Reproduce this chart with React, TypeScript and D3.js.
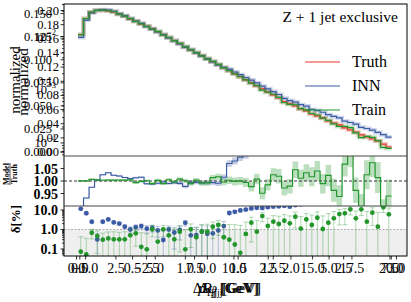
import React from 'react';
import * as d3 from 'd3';

// ---- data ----
const nBins = 57;

const truth = [0.0109, 0.0219, 0.0287, 0.0310, 0.0313, 0.0305, 0.0292, 0.0263, 0.0242, 0.0216,
  0.0194, 0.0174, 0.0156, 0.0140, 0.0124, 0.0109, 0.00958, 0.00841, 0.00738, 0.00648,
  0.00569, 0.00499, 0.00438, 0.00385, 0.00338, 0.00296, 0.00260, 0.00228, 0.00200, 0.00176,
  0.00154, 0.00136, 0.00119, 0.00104, 0.000917, 0.000805, 0.000706, 0.000594, 0.000545, 0.000499,
  0.000438, 0.000402, 0.000353, 0.000323, 0.000296, 0.000260, 0.000238, 0.000219, 0.000192, 0.000176,
  0.000161, 0.000142, 0.000130, 0.000119, 0.000109, 0.0000957, 0.0000841];

// signed deviation from truth, in percent
const innDev = [-11.5, -6.8, -2.5, 0.31, 2.5, 3.3, 2.3, 2.0, 1.4, 1.0, 1.3, 1.5,
  -1.1, -1.2, -0.9, -0.29, -1.0, -0.7, -0.94, -2.2, -0.5, -0.52, -0.8, -0.6, -0.64, -0.9, 1.5,
  7.0, 8.0, 9.5, 10.5, 12, 13, 12.5, 14, 15, 15.5, 16.5, 15,
  18, 20, 23, 21, 26, 28, 31, 33, 36, 34, 38, 41, 39, 44, 47, 45, 50, 54];

const trainDev = [0.073, 0.053, 0.68, 0.46, 0.3, 0.35, 0.315, 0.315, 0.315, 0.5, -0.64, -0.13, 0.096,
  -1.02, 0.24, -1.02, 0.5, -0.315, 0.77, 0.096, -1.02, 0.40, -0.77, -0.77, 1.39, 1.7, -0.40,
  0.3, -0.17, 0.064, -0.59, -2.23, 0.77, -4.9, -1.51, 2.51, 1.91, -2.8, -2.08,
  4.5, 1.11, 3.3, 1.7, 4.0, -1.06, 2.23, -3.74, -6.2, 6.77, 10.8, -3.74, -10.8, 2.51, 7.3, 1.39, -13.7, -6.0];

// uncertainties, in percent
const innSigma = [0.25, 0.2, 0.25, 0.3, 0.25, 0.3, 0.3, 0.35, 0.3, 0.35,
  0.4, 0.4, 0.45, 0.45, 0.5, 0.55, 0.5, 0.6, 0.65, 0.7,
  0.75, 0.8, 0.85, 0.9, 1.0, 1.05, 1.1, 1.3, 1.4, 1.5,
  1.6, 1.8, 1.9, 2.0, 2.2, 2.4, 2.5, 2.7, 2.9, 3.0,
  3.2, 3.4, 3.6, 3.8, 4.0, 4.2, 4.4, 4.6, 4.8, 5.0,
  5.2, 5.4, 5.6, 5.8, 6.0, 6.2, 6.4];

const trainSigma = [0.35, 0.3, 0.35, 0.4, 0.35, 0.4, 0.45, 0.4, 0.45, 0.5,
  0.5, 0.55, 0.5, 0.6, 0.65, 0.6, 0.7, 0.75, 0.7, 0.85,
  0.9, 0.85, 1.0, 1.1, 1.05, 1.2, 1.3, 1.5, 1.6, 1.55,
  1.8, 2.0, 2.1, 2.4, 2.3, 2.6, 2.9, 3.0, 2.9, 3.3,
  3.5, 3.4, 3.8, 4.0, 3.9, 4.3, 4.6, 4.5, 5.0, 5.2,
  5.1, 5.6, 5.8, 5.7, 6.2, 6.4, 6.6];

// overlapping axis tick sets (as in the reference)
const yTicksA = [0, 0.02, 0.04, 0.06, 0.08, 0.10, 0.12, 0.14, 0.16, 0.18, 0.20];
const yTicksB = [0, 0.025, 0.05, 0.075, 0.1, 0.125, 0.15];
const yLogTicks = [1e-4, 1e-3, 1e-2];
const ratioTicks = [0.95, 1.0, 1.05];
const deltaTicks = [0.1, 1, 10];
const xTicksA = [-5, -2.5, 0, 2.5, 5, 7.5];
const xTicksB = [0, 2.5, 5, 7.5, 10, 12.5, 15, 17.5, 20];
const xTicksC = [0, 0.5, 1, 1.5, 2, 2.5, 3];

const legend = [
  { name: 'Truth', color: '#e8372c' },
  { name: 'INN', color: '#3c5ba6' },
  { name: 'Train', color: '#22962a' },
];

const FONT = "'Liberation Serif', 'DejaVu Serif', serif";
const minus = (s: string) => s.replace('-', '\u2212');

export default function App() {
  const W = 411, H = 302;
  const L = 64, R = 407, T = 4, mB = 156, rB = 206, dB = 256;

  const x = d3.scaleLinear().domain([-2.55, 59.8]).range([L, R]);
  const yMain = d3.scaleLog().domain([5.7e-5, 0.041]).range([mB, T]);
  const yRatio = d3.scaleLinear().domain([0.9, 1.1]).range([rB, mB]);
  const yDelta = d3.scaleLog().domain([0.0438, 16]).range([dB, rB]);

  const yA = d3.scaleLinear().domain([0, 0.205]).range([152, 7]);
  const yB = d3.scaleLinear().domain([0, 0.155]).range([152, 9]);
  const xA = d3.scaleLinear().domain([-5.89, 8.2]).range([L, R]);
  const xB = d3.scaleLinear().domain([-0.8, 21]).range([L, R]);
  const xC = d3.scaleLinear().domain([-0.15, 3.1]).range([L, R]);

  const [cTruth, cInn, cTrain] = legend.map(l => l.color);

  const inn = truth.map((v, i) => v * (1 + innDev[i] / 100));
  const train = truth.map((v, i) => v * (1 + trainDev[i] / 100));
  const innRatio = innDev.map(d => 1 + d / 100);
  const trainRatio = trainDev.map(d => 1 + d / 100);

  const steps = (vals: number[]): [number, number][] =>
    [...vals.map((v, i) => [i, v] as [number, number]), [nBins, vals[nBins - 1]]];

  const mainLine = d3.line<[number, number]>()
    .x(d => x(d[0])).y(d => yMain(d[1])).curve(d3.curveStepAfter);
  const ratioLine = d3.line<[number, number]>()
    .x(d => x(d[0])).y(d => yRatio(d[1])).curve(d3.curveStepAfter);
  const band = (r: number[], s: number[]) => {
    const lo = steps(r.map((v, i) => v - s[i] / 100));
    const hi = steps(r.map((v, i) => v + s[i] / 100));
    return d3.area<number>()
      .x(i => x(lo[i][0]))
      .y0(i => yRatio(lo[i][1]))
      .y1(i => yRatio(hi[i][1]))
      .curve(d3.curveStepAfter)(d3.range(lo.length));
  };

  const logMinor = (lo: number, hi: number) => {
    const out: number[] = [];
    for (let e = -6; e <= 2; e++) for (let m = 2; m <= 9; m++) {
      const v = m * Math.pow(10, e);
      if (v >= lo && v <= hi) out.push(v);
    }
    return out;
  };

  const deltaSeries = (dev: number[], sig: number[], color: string, key: string) => (
    <g key={key}>
      {dev.map((d, i) => {
        const a = Math.abs(d);
        const cx = x(i + 0.5);
        const hi = a + sig[i];
        const lo = a - sig[i];
        const yHi = yDelta(hi);
        const yLo = lo > 0 ? yDelta(lo) : dB + 20;
        return (
          <g key={i}>
            <line x1={cx} x2={cx} y1={yHi} y2={yLo} stroke={color} strokeOpacity={0.35} strokeWidth={1} />
            <line x1={cx - 2.5} x2={cx + 2.5} y1={yHi} y2={yHi} stroke={color} strokeOpacity={0.35} strokeWidth={1} />
            {lo > 0 && <line x1={cx - 2.5} x2={cx + 2.5} y1={yLo} y2={yLo} stroke={color} strokeOpacity={0.35} strokeWidth={1} />}
            <circle cx={cx} cy={yDelta(a)} r={2.4} fill={color} />
          </g>
        );
      })}
    </g>
  );

  const sup = (v: number) => String(Math.round(Math.log10(v))).replace('-', '\u2212');

  return (
    <svg width={W} height={H} style={{ position: 'absolute', left: 0, top: 0, background: '#fff' }}
      fontFamily={FONT}>
      <defs>
        <clipPath id="cMain"><rect x={L} y={T} width={R - L} height={mB - T} /></clipPath>
        <clipPath id="cRatio"><rect x={L} y={mB} width={R - L} height={rB - mB} /></clipPath>
        <clipPath id="cDelta"><rect x={L} y={rB} width={R - L} height={dB - rB} /></clipPath>
      </defs>

      {/* main panel */}
      <g clipPath="url(#cMain)" fill="none">
        <path d={mainLine(steps(truth)) || ''} stroke={cTruth} strokeOpacity={0.25} strokeWidth={4} />
        <path d={mainLine(steps(inn)) || ''} stroke={cInn} strokeOpacity={0.25} strokeWidth={4} />
        <path d={mainLine(steps(train)) || ''} stroke={cTrain} strokeOpacity={0.25} strokeWidth={4} />
        <path d={mainLine(steps(truth)) || ''} stroke={cTruth} strokeWidth={1.2} />
        <path d={mainLine(steps(inn)) || ''} stroke={cInn} strokeWidth={1.2} />
        <path d={mainLine(steps(train)) || ''} stroke={cTrain} strokeWidth={1.2} />
      </g>

      <text x={398} y={22} fontSize={15.5} textAnchor="end">Z + 1 jet exclusive</text>
      {legend.map((l, i) => (
        <g key={l.name}>
          <line x1={305} x2={340} y1={62 + i * 24} y2={62 + i * 24} stroke={l.color} strokeWidth={1.2} />
          <text x={352} y={67 + i * 24} fontSize={16}>{l.name}</text>
        </g>
      ))}

      {/* ratio panel */}
      <g clipPath="url(#cRatio)">
        <path d={band(innRatio, innSigma) || ''} fill={cInn} fillOpacity={0.3} />
        <path d={band(trainRatio, trainSigma) || ''} fill={cTrain} fillOpacity={0.3} />
        <line x1={L} x2={R} y1={yRatio(1)} y2={yRatio(1)} stroke="#333" strokeWidth={1.1} strokeDasharray="3,2" />
        <path d={ratioLine(steps(innRatio)) || ''} fill="none" stroke={cInn} strokeWidth={1.2} />
        <path d={ratioLine(steps(trainRatio)) || ''} fill="none" stroke={cTrain} strokeWidth={1.2} />
      </g>

      {/* delta panel */}
      <g clipPath="url(#cDelta)">
        <rect x={L} y={yDelta(1)} width={R - L} height={dB - yDelta(1)} fill="#efefef" />
        <line x1={L} x2={R} y1={yDelta(1)} y2={yDelta(1)} stroke="#999" strokeWidth={0.8} strokeDasharray="2,1.5" />
        {deltaSeries(innDev, innSigma, cInn, 'inn')}
        {deltaSeries(trainDev, trainSigma, cTrain, 'train')}
      </g>

      {/* frames */}
      <rect x={L} y={T} width={R - L} height={dB - T} fill="none" stroke="#000" strokeWidth={1} />
      <line x1={L} x2={R} y1={mB} y2={mB} stroke="#444" strokeWidth={1} />
      <line x1={L} x2={R} y1={rB} y2={rB} stroke="#444" strokeWidth={1} />

      {/* main y axis: overlapping tick sets */}
      <g stroke="#000" strokeWidth={0.8}>
        {logMinor(5.7e-5, 0.041).map(v => (
          <line key={'m' + v} x1={L - 2} x2={L} y1={yMain(v)} y2={yMain(v)} />
        ))}
        {yLogTicks.map(v => <line key={'l' + v} x1={L - 3.5} x2={L} y1={yMain(v)} y2={yMain(v)} />)}
        {yTicksA.map(v => <line key={'a' + v} x1={L - 3.5} x2={L} y1={yA(v)} y2={yA(v)} />)}
        {yTicksB.map(v => <line key={'b' + v} x1={L - 3.5} x2={L} y1={yB(v)} y2={yB(v)} />)}
      </g>
      <g fontSize={12.5} textAnchor="end">
        {yTicksA.map(v => <text key={'ta' + v} x={59} y={yA(v) + 4}>{d3.format('.2f')(v)}</text>)}
        {yTicksB.map(v => <text key={'tb' + v} x={52} y={yB(v) + 4}>{d3.format('.3f')(v)}</text>)}
        {yLogTicks.map(v => (
          <text key={'tl' + v} x={56} y={yMain(v) + 4}>10<tspan dy={-6} fontSize={8.5}>{sup(v)}</tspan></text>
        ))}
      </g>
      <text transform="translate(20,80) rotate(-90)" fontSize={15} textAnchor="middle">normalized</text>
      <text transform="translate(28,82) rotate(-90)" fontSize={15} textAnchor="middle">normalized</text>

      {/* ratio y axis */}
      <g stroke="#000" strokeWidth={0.8}>
        {ratioTicks.map(v => <line key={v} x1={L - 3.5} x2={L} y1={yRatio(v)} y2={yRatio(v)} />)}
      </g>
      <g fontSize={14} fontWeight="bold" textAnchor="end">
        {ratioTicks.map(v => <text key={v} x={58} y={yRatio(v) + 5}>{d3.format('.2f')(v)}</text>)}
      </g>
      <g transform="translate(10,174) rotate(-90)" fontSize={8} fontWeight="bold" textAnchor="middle">
        <text x={0} y={-1.5}>Model</text>
        <line x1={-11} x2={11} y1={0} y2={0} stroke="#000" strokeWidth={0.7} />
        <text x={0} y={6.5}>Truth</text>
      </g>

      {/* delta y axis */}
      <g stroke="#000" strokeWidth={0.8}>
        {logMinor(0.0438, 16).map(v => (
          <line key={'dm' + v} x1={L - 2} x2={L} y1={yDelta(v)} y2={yDelta(v)} />
        ))}
        {deltaTicks.map(v => <line key={v} x1={L - 3.5} x2={L} y1={yDelta(v)} y2={yDelta(v)} />)}
      </g>
      <g fontSize={14} fontWeight="bold" textAnchor="end">
        {deltaTicks.map(v => <text key={v} x={58} y={yDelta(v) + 5}>{d3.format('.1f')(v)}</text>)}
      </g>
      <text transform="translate(20,219) rotate(-90)" fontSize={13} fontWeight="bold" textAnchor="middle">
        {'\u03b4[%]'}
      </text>

      {/* x axes: overlapping tick sets */}
      <g stroke="#000" strokeWidth={0.8}>
        {xTicksA.map(v => <line key={'xa' + v} x1={xA(v)} x2={xA(v)} y1={dB} y2={dB + 3.5} />)}
        {xTicksB.map(v => <line key={'xb' + v} x1={xB(v)} x2={xB(v)} y1={dB} y2={dB + 3.5} />)}
        {xTicksC.map(v => <line key={'xc' + v} x1={xC(v)} x2={xC(v)} y1={dB} y2={dB + 3.5} />)}
      </g>
      <g fontSize={14} textAnchor="middle">
        {xTicksA.map(v => <text key={'txa' + v} x={xA(v)} y={273}>{minus(d3.format('.1f')(v))}</text>)}
        {xTicksB.map(v => <text key={'txb' + v} x={xB(v)} y={273}>{d3.format('.1f')(v)}</text>)}
        {xTicksC.map(v => <text key={'txc' + v} x={xC(v)} y={273}>{d3.format('.1f')(v)}</text>)}
      </g>
      <g fontSize={15} textAnchor="middle">
        <text x={228} y={293}><tspan fontStyle="italic">p</tspan><tspan dy={3} fontSize={10}>T,j</tspan><tspan dy={-3}> [GeV]</tspan></text>
        <text x={226} y={293}>{'\u0394'}<tspan fontStyle="italic">R</tspan><tspan dy={3} fontSize={10}>jj</tspan><tspan dy={-3}> [GeV]</tspan></text>
        <text x={230} y={293}>{'\u0394'}<tspan fontStyle="italic">{'\u03c6'}</tspan><tspan dy={3} fontSize={10}>jj</tspan><tspan dy={-3}>[GeV]</tspan></text>
      </g>
    </svg>
  );
}
